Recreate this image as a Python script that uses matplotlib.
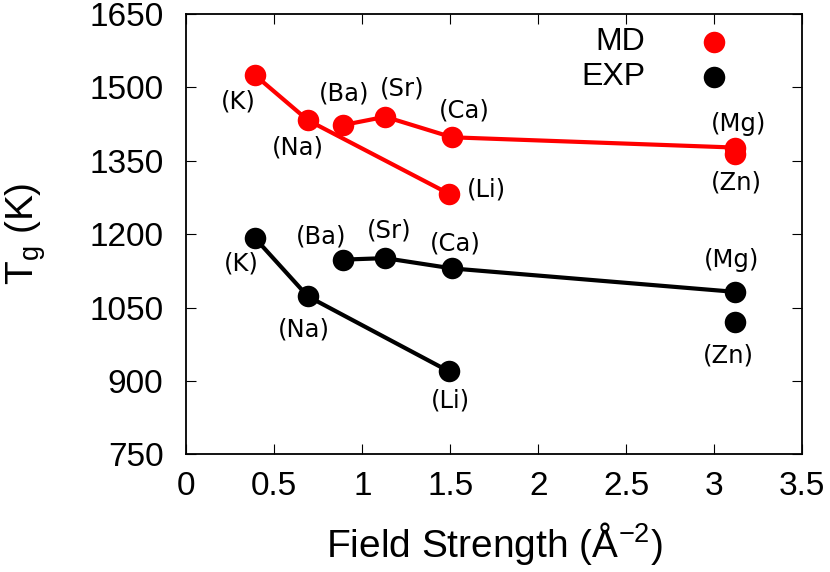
import numpy as np
import matplotlib
matplotlib.use("Agg")
import matplotlib.pyplot as plt

###########################################################################
# Data
###########################################################################

ions = ["K", "Na", "Li", "Ba", "Sr", "Ca", "Mg", "Zn"]
field_strength = [0.39, 0.69, 1.49, 0.89, 1.13, 1.51, 3.12, 3.12]
tg_md = [1525, 1433, 1283, 1423, 1440, 1398, 1377, 1363]
tg_exp = [1192, 1073, 920, 1148, 1151, 1130, 1082, 1020]

# which ions are joined by a line
alkali = [0, 1, 2]
alkaline_earth = [3, 4, 5, 6]

# label offsets (points) for each ion label
md_offsets = [(-12, -19), (-7, -20), (27, 3), (1, 23), (12, 20), (9, 19), (2, 17), (1, -20)]
exp_offsets = [(-10, -18), (-3, -24), (1, -21), (-16, 17), (3, 20), (2, 18), (-3, 23), (-5, -24)]

###########################################################################
# Style
###########################################################################

plt.rcParams["font.family"] = ["Liberation Sans", "DejaVu Sans"]
plt.rcParams["mathtext.default"] = "regular"

fig = plt.figure(figsize=(8.3, 5.72), dpi=100)
ax = fig.add_axes([0.2245, 0.2057, 0.7422, 0.7698])

series = [
    (tg_md, "#ff0000", "MD", md_offsets),
    (tg_exp, "#000000", "EXP", exp_offsets),
]

for values, color, name, offsets in series:

    values = np.array(values)
    xs = np.array(field_strength)

    for group in (alkali, alkaline_earth):
        ax.plot(xs[group], values[group], color=color, lw=3, zorder=2)

    ax.plot(xs, values, "o", color=color, ms=15.5, zorder=3,
            markeredgewidth=0)

    for i, ion in enumerate(ions):
        ax.annotate(f"({ion})", (xs[i], values[i]),
                    xytext=offsets[i], textcoords="offset points",
                    ha="center", va="center", fontsize=17.5,
                    family="DejaVu Sans")

###########################################################################
# Key (gnuplot style: text right aligned, marker to the right)
###########################################################################

key_y = [0.937, 0.858]

for (values, color, name, offsets), ky in zip(series, key_y):
    ax.text(0.745, ky, name, transform=ax.transAxes, ha="right",
            va="center", fontsize=23)
    ax.plot([0.8567], [ky], "o", color=color, ms=15.5,
            transform=ax.transAxes, clip_on=False, markeredgewidth=0)

###########################################################################
# Axes
###########################################################################

ax.set_xlim(0, 3.5)
ax.set_ylim(750, 1650)

ax.set_xticks(np.arange(0, 3.51, 0.5))
ax.set_xticklabels(["0", "0.5", "1", "1.5", "2", "2.5", "3", "3.5"])
ax.set_yticks(np.arange(750, 1651, 150))

ax.tick_params(direction="in", top=True, right=True, length=7.5,
               width=0.8, labelsize=24)
ax.tick_params(axis="x", pad=12)
ax.tick_params(axis="y", pad=16.5)

for s in ax.spines.values():
    s.set_linewidth(1.3)

ax.set_xlabel("Field Strength (Å$^{-2}$)", fontsize=28, labelpad=13)
ax.set_ylabel("T$_{g}$ (K)", fontsize=28, labelpad=30)

fig.savefig("out.png", dpi=100)
